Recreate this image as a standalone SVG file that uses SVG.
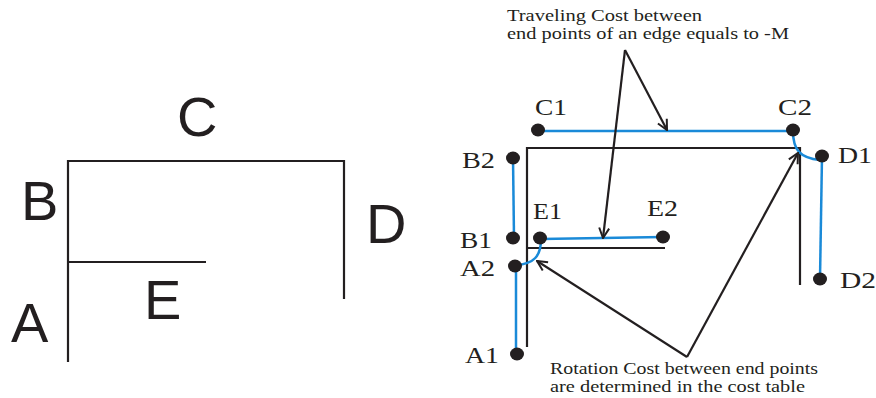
<svg xmlns="http://www.w3.org/2000/svg" width="876" height="398" viewBox="0 0 876 398">
<style>
.wall{stroke:#231f20;stroke-width:2.2;fill:none}
.big{font-family:"Liberation Sans",Arial,sans-serif;font-size:56px;fill:#231f20}
.lbl{font-family:"Liberation Serif","Times New Roman",serif;font-size:23px;fill:#231f20}
.note{font-family:"Liberation Serif","Times New Roman",serif;font-size:16px;fill:#231f20}
.dot{fill:#231f20}
.path{stroke:#1a8ad8;stroke-width:2.5;fill:none}
.arr{stroke:#231f20;stroke-width:2.2;fill:none}
</style>
<defs>
<marker id="ah" viewBox="0 0 12 12" refX="11" refY="6" markerWidth="12" markerHeight="12" markerUnits="userSpaceOnUse" orient="auto">
<path d="M1,1 L11,6 L1,11" fill="none" stroke="#231f20" stroke-width="2"/>
</marker>
</defs>
<rect width="876" height="398" fill="#fff"/>
<g id="left-layout">
<path class="wall" d="M68,362 V161 H344 V299"/>
<path class="wall" d="M68,262 H206"/>
<text class="big" x="177" y="136">C</text>
<text class="big" x="21" y="220">B</text>
<text class="big" x="366" y="243">D</text>
<text class="big" x="144" y="319">E</text>
<text class="big" x="11" y="342">A</text>
</g>
<g id="right-walls">
<path class="wall" d="M527,347 V148 H800 V285"/>
<path class="wall" d="M527,248 H665"/>
</g>
<g id="connectors">
<path class="path" d="M538,131 H793"/>
<path class="path" d="M793,131 C793,150 800,158 820,160"/>
<path class="path" d="M822,156 L820,279"/>
<path class="path" d="M513,158 L514,238"/>
<path class="path" d="M541,239 L663,237"/>
<path class="path" d="M541,239 C541,256 534,264 516,265"/>
<path class="path" d="M516,265 V354"/>
<path class="arr" d="M625,50 L667,130" marker-end="url(#ah)"/>
<path class="arr" d="M625,50 L603,238" marker-end="url(#ah)"/>
<path class="arr" d="M687,357 L537,261" marker-end="url(#ah)"/>
<path class="arr" d="M687,357 L798,153" marker-end="url(#ah)"/>
</g>
<g id="C1"><ellipse class="dot" cx="538" cy="130" rx="7" ry="6.5"/><text class="lbl" x="535" y="115" textLength="32" lengthAdjust="spacingAndGlyphs">C1</text></g>
<g id="C2"><ellipse class="dot" cx="793" cy="130" rx="7" ry="6.5"/><text class="lbl" x="778" y="115" textLength="34" lengthAdjust="spacingAndGlyphs">C2</text></g>
<g id="D1"><ellipse class="dot" cx="822" cy="156" rx="7" ry="6.5"/><text class="lbl" x="838" y="163" textLength="34" lengthAdjust="spacingAndGlyphs">D1</text></g>
<g id="D2"><ellipse class="dot" cx="820" cy="279" rx="7" ry="6.5"/><text class="lbl" x="840" y="288" textLength="36" lengthAdjust="spacingAndGlyphs">D2</text></g>
<g id="B2"><ellipse class="dot" cx="513" cy="158" rx="7" ry="6.5"/><text class="lbl" x="462" y="168" textLength="33" lengthAdjust="spacingAndGlyphs">B2</text></g>
<g id="B1"><ellipse class="dot" cx="513" cy="238" rx="7" ry="6.5"/><text class="lbl" x="460" y="248" textLength="32" lengthAdjust="spacingAndGlyphs">B1</text></g>
<g id="E1"><ellipse class="dot" cx="540" cy="238" rx="7" ry="6.5"/><text class="lbl" x="533" y="219" textLength="29" lengthAdjust="spacingAndGlyphs">E1</text></g>
<g id="E2"><ellipse class="dot" cx="663" cy="237" rx="7" ry="6.5"/><text class="lbl" x="647" y="216" textLength="31" lengthAdjust="spacingAndGlyphs">E2</text></g>
<g id="A2"><ellipse class="dot" cx="515" cy="266" rx="7" ry="6.5"/><text class="lbl" x="460" y="276" textLength="35" lengthAdjust="spacingAndGlyphs">A2</text></g>
<g id="A1"><ellipse class="dot" cx="517" cy="354" rx="7" ry="6.5"/><text class="lbl" x="465" y="363" textLength="34" lengthAdjust="spacingAndGlyphs">A1</text></g>
<g id="note-travel">
<text class="note" x="507" y="21" textLength="195" lengthAdjust="spacingAndGlyphs">Traveling Cost between</text>
<text class="note" x="507" y="39" textLength="282" lengthAdjust="spacingAndGlyphs">end points of an edge equals to -M</text>
</g>
<g id="note-rotation">
<text class="note" x="550" y="374" textLength="268" lengthAdjust="spacingAndGlyphs">Rotation Cost between end points</text>
<text class="note" x="550" y="392" textLength="255" lengthAdjust="spacingAndGlyphs">are determined in the cost table</text>
</g>
</svg>
